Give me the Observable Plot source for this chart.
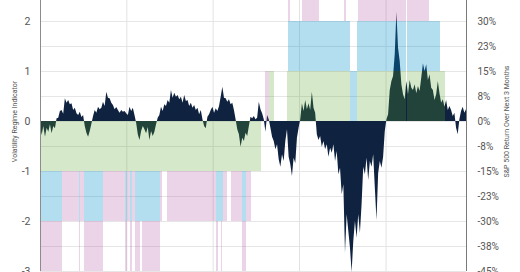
<!DOCTYPE html>
<html>
<head>
<meta charset="utf-8">
<script src="https://cdn.jsdelivr.net/npm/d3@7"></script>
<script src="https://cdn.jsdelivr.net/npm/@observablehq/plot@0.6"></script>
<style>
  html, body { margin: 0; padding: 0; background: #fff; }
  #chart svg { display: block; }
</style>
</head>
<body>
<div id="chart"></div>
<script>
// Time span of the chart (weekly observations)
const periodStart = "2005-01-01";
const periodEnd = "2009-12-07";

// S&P 500 return over the following 3 months, in percent, one value per week
const forwardReturnPct = [
  -1.2, -4.2, -1.5, -4.7, -2.0, -3.2, -1.0, -3.7, -1.5, -2.2,
  0.8,
  1.0, 3.0, 3.3, 2.2, 6.8, 5.5, 6.3, 5.0, 5.3, 3.3, 4.0, 2.3, 1.8, 2.8, 1.2, 1.8,
  -1.5, -3.5, -4.7, -3.0, -0.8,
  1.5, 3.3, 2.5, 4.3, 3.5, 4.0, 5.8, 4.5, 8.8, 7.0, 6.8, 5.5, 4.8, 3.5, 4.2, 3.3, 2.5, 3.3, 2.8, 3.0, 2.3, 1.8, 4.3, 3.0, 4.0, 1.8,
  -0.5, -4.0, -5.7, -3.0, -1.5, -2.5, -3.7, -1.8, -5.7, -3.0, -4.5, -3.2, -1.0,
  1.0, 1.8,
  4.3, 3.0, 5.0, 4.5, 6.3, 5.5,
  9.3, 7.0, 8.5, 7.3,
  7.8, 6.5, 7.3, 5.5, 7.8, 6.0,
  6.3, 4.5, 5.5, 4.0,
  4.8, 3.3, 4.0, 2.0, 3.3,
  0.5, -1.5, -2.2,
  1.3, 2.0,
  3.3, 4.3, 2.5, 3.8, 3.0, 4.5,
  7.3, 10.3, 7.0,
  6.8, 5.8, 6.5, 5.0, 5.5,
  3.3, 0.5,
  -2.5, -4.0, -7.7, -5.0, -6.0, -3.5, -4.5, -1.5,
  1.3, 0.8, 1.5, 0.5, 1.0,
  5.8, 3.5,
  2.3, 0.5,
  -3.2,
  1.8, 0.5,
  -2.0, -4.7, -6.0, -8.5, -7.0, -11.5, -13.7, -10.0, -12.0, -6.0, -2.5, -10.7, -13.0, -16.5, -11.0, -12.7, -5.0, -2.0,
  0.5, 5.3, 3.0, 6.3, 3.5, 5.3, 3.3, 8.8, 4.0, 2.5,
  -4.0, -5.7, -4.5, -7.7, -6.0, -8.5, -7.0, -10.7, -8.0, -9.5, -7.0, -12.0, -9.0, -16.0, -14.0, -22.0, -19.0,
  -39.6, -28.0, -33.0, -38.0, -45.3, -36.0, -30.0, -35.0, -28.0, -33.6,
  -25.0, -13.7, -16.0, -11.0, -17.7, -12.0, -13.7, -10.0, -20.0, -29.7, -15.7, -12.0, -14.0, -10.7, -3.0,
  0.5, 2.0,
  9.3, 12.0, 13.5,
  20.0, 32.8, 22.0,
  18.0, 11.0, 8.0, 6.5,
  12.0, 8.0,
  12.3, 10.0, 9.3, 11.0,
  8.3, 10.5, 9.0,
  13.0, 17.3, 15.0, 17.0,
  12.3, 14.0, 10.0,
  9.3, 6.3, 8.0, 12.0,
  8.3, 5.5, 6.5, 4.3,
  6.3, 3.3, 4.5,
  3.3, 1.5, 2.5,
  -2.0, -4.0,
  0.5,
  3.0, 4.3, 2.5, 3.5
];

// Volatility regime: each period has three components (-1, 0 or +1) stacked from zero
const regimeStart = [
  "2005-01-01", "2005-04-06", "2005-06-15", "2005-06-21", "2005-07-08", "2005-09-26", "2005-12-28",
  "2006-01-03", "2006-01-18", "2006-01-24", "2006-02-08", "2006-03-01", "2006-03-10", "2006-05-25",
  "2006-06-02", "2006-06-23", "2007-01-16", "2007-01-25", "2007-02-04", "2007-02-11", "2007-02-15",
  "2007-03-04", "2007-03-20", "2007-05-06", "2007-05-23", "2007-06-13", "2007-08-11", "2007-08-28",
  "2007-11-12", "2007-11-16", "2007-11-25", "2008-01-14", "2008-03-26", "2008-07-09", "2008-07-16",
  "2008-08-04", "2008-09-03", "2008-09-07", "2009-04-03", "2009-07-03", "2009-08-19"
];
const regimeEnd = [
  "2005-04-06", "2005-06-15", "2005-06-21", "2005-07-08", "2005-09-26", "2005-12-28", "2006-01-03",
  "2006-01-18", "2006-01-24", "2006-02-08", "2006-03-01", "2006-03-10", "2006-05-25", "2006-06-02",
  "2006-06-23", "2007-01-16", "2007-01-25", "2007-02-04", "2007-02-11", "2007-02-15", "2007-03-04",
  "2007-03-20", "2007-05-06", "2007-05-23", "2007-06-13", "2007-07-25", "2007-08-28", "2007-09-18",
  "2007-11-16", "2007-11-25", "2008-01-14", "2008-03-26", "2008-07-09", "2008-07-16", "2008-08-04",
  "2008-09-03", "2008-09-07", "2009-03-28", "2009-07-03", "2009-08-19", "2009-09-09"
];
const trendComponent = [
  -1, -1, -1, -1, -1, -1, -1,
  -1, -1, -1, -1, -1, -1, -1,
  -1, -1, -1, -1, -1, -1, -1,
  -1, -1, -1, -1, -1, 0, 1,
  1, 1, 1, 1, 1, 1, 1,
  0, 1, 1, 1, 1, 1
];
const levelComponent = [
  -1, 0, -1, 0, -1, 0, -1,
  0, -1, 0, -1, -1, -1, 0,
  0, 0, -1, -1, -1, -1, 0,
  0, 0, -1, 0, 0, 0, 0,
  0, 1, 1, 1, 1, 1, 1,
  1, 1, 1, 1, 1, 0
];
const spreadComponent = [
  -1, -1, -1, -1, -1, -1, -1,
  -1, -1, -1, -1, 0, -1, -1,
  0, -1, -1, 0, -1, 0, -1,
  0, -1, -1, -1, 0, 1, 0,
  0, 1, 0, 1, 0, 1, 0,
  0, 0, 1, 1, 0, 0
];
const componentNames = ["trend", "level", "spread"];
const componentColors = ["rgba(87,163,39,0.25)", "rgba(2,145,205,0.3)", "rgba(170,70,160,0.24)"];

// Axis ticks
const leftTicks = [-3, -2, -1, 0, 1, 2];
const leftTickLabels = ["-3", "-2", "-1", "0", "1", "2"];
const rightTicks = [-3, -2.5, -2, -1.5, -1, -0.5, 0, 0.5, 1, 1.5, 2];
const rightTickLabels = ["-45%", "-38%", "-30%", "-23%", "-15%", "-8%", "0%", "8%", "15%", "23%", "30%"];
const gridLevels = [-3, -2.5, -2, -1.5, -1, -0.5, 0, 0.5, 1, 1.5, 2, 2.5];
const yearLines = ["2005-01-01", "2006-01-01", "2007-01-01", "2008-01-01", "2009-01-01"];
const pctPerUnit = 15; // one regime unit on the left axis equals 15% on the right axis

const t0 = new Date(periodStart), t1 = new Date(periodEnd);
const step = (t1 - t0) / (forwardReturnPct.length - 1);
const returns = forwardReturnPct.map((pct, i) => ({date: new Date(+t0 + i * step), pct}));

const regimeRows = regimeStart.flatMap((s, i) => [
  {start: new Date(s), end: new Date(regimeEnd[i]), component: "trend", value: trendComponent[i]},
  {start: new Date(s), end: new Date(regimeEnd[i]), component: "level", value: levelComponent[i]},
  {start: new Date(s), end: new Date(regimeEnd[i]), component: "spread", value: spreadComponent[i]}
]);

const leftLabel = new Map(leftTicks.map((t, i) => [t, leftTickLabels[i]]));
const rightLabel = new Map(rightTicks.map((t, i) => [t, rightTickLabels[i]]));

const chart = Plot.plot({
  width: 520,
  height: 272,
  marginLeft: 40,
  marginRight: 54,
  marginTop: -29,
  marginBottom: 1,
  style: {fontFamily: "Roboto, 'Open Sans', sans-serif", background: "#fff"},
  x: {type: "utc", domain: [t0, t1], axis: null},
  y: {domain: [-3, 3]},
  color: {type: "ordinal", domain: componentNames, range: componentColors},
  marks: [
    Plot.ruleY(gridLevels, {stroke: "#e6e6e6"}),
    Plot.ruleX(yearLines.map(d => new Date(d)), {stroke: "#e2e2e2"}),
    Plot.areaY(returns, {x: "date", y: d => d.pct / pctPerUnit, fill: "#0f2341", curve: "linear"}),
    Plot.rectY(regimeRows, {x1: "start", x2: "end", y: "value", fill: "component", inset: 0, shapeRendering: "crispEdges"}),
    Plot.ruleX([t0], {stroke: "#8c8c8c"}),
    Plot.ruleX([t1], {stroke: "#7a7a7a"}),
    Plot.axisY({anchor: "left", ticks: leftTicks, tickFormat: d => leftLabel.get(d), tickSize: 0, tickPadding: 10, label: null, fontSize: 10.5, color: "#555"}),
    Plot.axisY({anchor: "right", ticks: rightTicks, tickFormat: d => rightLabel.get(d), tickSize: 0, tickPadding: 11, label: null, fontSize: 10, color: "#555"}),
    Plot.text(["Volatility Regime Indicator"], {frameAnchor: "left", dx: -26, rotate: -90, textAnchor: "middle", lineAnchor: "middle", fontSize: 7, fill: "#555"}),
    Plot.text(["S&P 500 Return Over Next 3 Months"], {frameAnchor: "right", dx: 40, rotate: -90, textAnchor: "middle", lineAnchor: "middle", fontSize: 7, fill: "#555"})
  ]
});

document.getElementById("chart").appendChild(chart);
</script>
</body>
</html>
